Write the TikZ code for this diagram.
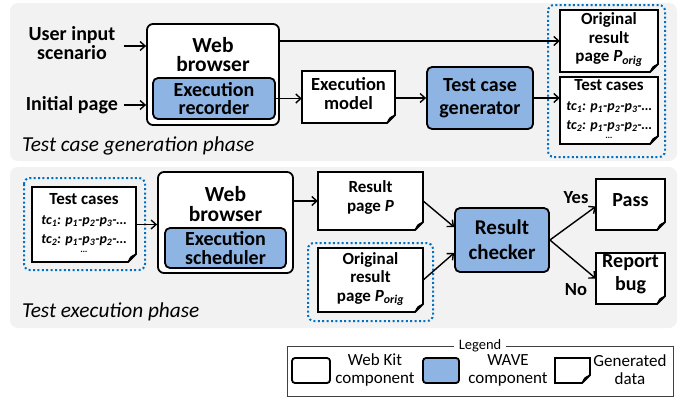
\documentclass[tikz,border=0pt]{standalone}
\usepackage{fontspec}
\setmainfont{Carlito}
\usetikzlibrary{arrows.meta,calc}
\definecolor{waveblue}{HTML}{8EB4E3}
\definecolor{panelgray}{HTML}{F2F2F2}
\definecolor{markblue}{HTML}{0070C0}

% document shape with a curled bottom-right corner; #1 name, #2..#5 corners, #6 label style, #7 text
\newcommand\docnode[7]{%
  \filldraw[docline] (#2,#3) -- (#4,#3) -- (#4,#5-8) -- (#4-8,#5) -- (#2,#5) -- cycle;
  \fill (#4,#5-8) .. controls (#4-2,#5-5) and (#4-5,#5-2) .. (#4-8,#5)
        .. controls (#4-7,#5-5) and (#4-5,#5-7) .. (#4,#5-8);
  \pgfmathsetmacro\docw{#4-#2}\pgfmathsetmacro\doch{#5-#3}%
  \pgfmathsetmacro\docx{(#2+#4)/2}\pgfmathsetmacro\docy{(#3+#5)/2}%
  \node[minimum width=\docw pt, minimum height=\doch pt, inner sep=0pt,
        label={[#6]center:{#7}}] (#1) at (\docx,\docy) {};
}

\begin{document}
\begin{tikzpicture}[x=1pt,y=-1pt,
  panel/.style={fill=panelgray, draw=none, rounded corners=8pt},
  wk/.style={draw, fill=white, line width=1.8pt, rounded corners=6pt, inner sep=0pt},
  wave/.style={draw, fill=waveblue, line width=1.8pt, rounded corners=5pt, inner sep=0pt, align=center},
  docline/.style={draw=black, fill=white, line width=1.8pt, line join=miter},
  groupbox/.style={draw=markblue, line width=2pt, dash pattern=on 2pt off 2.4pt, rounded corners=6pt},
  arr/.style={line width=1.4pt, -{Straight Barb[length=5pt,width=9pt,line width=1.4pt]}},
  big/.style={font=\fontsize{20}{18.5}\selectfont\bfseries, align=center, inner sep=0pt},
  huge/.style={font=\fontsize{21.5}{19.5}\selectfont\bfseries, align=center, inner sep=0pt},
  mid/.style={font=\fontsize{18.5}{19}\selectfont\bfseries, align=center, inner sep=0pt},
  doct/.style={font=\fontsize{17}{18.5}\selectfont\bfseries, align=center, inner sep=0pt},
  tclist/.style={font=\fontsize{14}{19.5}\selectfont\bfseries\itshape, align=center, inner sep=0pt},
  phase/.style={font=\fontsize{21.3}{24}\selectfont\itshape, inner sep=0pt, anchor=west},
  legtext/.style={font=\fontsize{17}{18}\selectfont, align=center, inner sep=0pt},
]
\useasboundingbox (0,0) rectangle (692,399);

% phase panels
\fill[panel] (10,3) rectangle (677,161);
\fill[panel] (10,167) rectangle (677,328);

% dotted groupings of generated data
\draw[groupbox] (548,5) rectangle (665,157);
\draw[groupbox] (24,178) rectangle (145,270);
\draw[groupbox] (308,243) rectangle (433,321);

% ---------- test case generation phase ----------
\node[big] (user) at (72,43) {User input\\scenario};
\node[big, anchor=east] (init) at (118,105) {Initial page};

\node[wk, minimum width=132pt, minimum height=101pt,
      label={[huge, yshift=20pt]center:{Web\\browser}}] (web1) at (213,74.5) {};
\node[wave, big, minimum width=122pt, minimum height=41pt] (rec) at (214,98.5) {Execution\\recorder};

\docnode{em}{302}{71}{395}{123}{mid, yshift=3.5pt}{Execution\\model}

\node[wave, minimum width=106pt, minimum height=62pt,
      font=\fontsize{20}{23}\selectfont\bfseries] (gen) at (480,98) {Test case\\generator};

\docnode{orig1}{560}{10}{658}{72}{doct, yshift=1.5pt}{Original\\result\\page \textit{P}\textsubscript{\textit{orig}}}
\docnode{tc1}{560}{77}{658}{144}{tclist, yshift=1.5pt}{{\upshape\fontsize{17}{19.5}\selectfont Test cases}\\tc\textsubscript{1}: p\textsubscript{1}-p\textsubscript{2}-p\textsubscript{3}-…\\tc\textsubscript{2}: p\textsubscript{1}-p\textsubscript{3}-p\textsubscript{2}-…\\[-11pt]{\fontsize{9}{9}\selectfont …}}

\draw[arr, shorten <=8pt] ([yshift=-3pt]user.east) -- ([yshift=-3pt]user.east -| web1.west);
\draw[arr, shorten <=6pt] (init.east) -- (init.east -| web1.west);
\draw[arr] (rec.east) -- (rec.east -| em.west);
\draw[arr] (em.east |- gen.west) -- (gen.west);
\draw[arr] (gen.east) -- (gen.east -| tc1.west);
\draw[arr] (orig1.west -| web1.east) -- (orig1.west);

\node[phase] (ph1) at (22,146) {Test case generation phase};

% ---------- test execution phase ----------
\docnode{tc2}{32}{187}{136}{262}{tclist, yshift=1.5pt}{{\upshape\fontsize{17}{19.5}\selectfont Test cases}\\tc\textsubscript{1}: p\textsubscript{1}-p\textsubscript{2}-p\textsubscript{3}-…\\tc\textsubscript{2}: p\textsubscript{1}-p\textsubscript{3}-p\textsubscript{2}-…\\[-11pt]{\fontsize{9}{9}\selectfont …}}

\node[wk, minimum width=135pt, minimum height=101pt,
      label={[huge, yshift=18.5pt]center:{Web\\browser}}] (web2) at (225.5,222.5) {};
\node[wave, big, minimum width=121pt, minimum height=40pt] (sched) at (225.5,248) {Execution\\scheduler};

\docnode{resp}{318}{172}{423}{230}{doct, yshift=3.5pt}{Result\\page \textit{P}}
\docnode{orig2}{318}{248}{423}{312}{doct, yshift=1pt}{Original\\result\\page \textit{P}\textsubscript{\textit{orig}}}

\node[wave, minimum width=94pt, minimum height=64pt,
      font=\fontsize{21}{25}\selectfont\bfseries] (checker) at (502,240) {Result\\checker};

\docnode{pass}{596}{179}{665}{230}{big, yshift=4.5pt}{Pass}
\docnode{report}{596}{253}{665}{304}{font=\fontsize{20}{23}\selectfont\bfseries, align=center, inner sep=0pt, yshift=4pt}{Report\\bug}

\draw[arr] (tc2.east) -- (tc2.east -| web2.west);
\draw[arr] (resp.west -| web2.east) -- (resp.west);
\draw[arr] (resp.east) -- ([yshift=13pt]checker.west);
\draw[arr] (orig2.east) -- ([yshift=-13pt]checker.west);
\draw[arr] (checker.east) -- ([yshift=-2pt]pass.west);
\draw[arr] (checker.east) -- (report.west);

\node[mid] (yes) at (576,198) {Yes};
\node[mid] (no) at (576,290) {No};

\node[phase] (ph2) at (22,312) {Test execution phase};

% ---------- legend ----------
\node[draw=black!75, line width=0.9pt, minimum width=386pt, minimum height=50pt, inner sep=0pt] (legend) at (480,371) {};
\node[fill=white, inner xsep=5pt, inner ysep=0pt, font=\fontsize{14.5}{15}\selectfont] (legtitle) at (legend.north) {Legend};

\node[wk, minimum width=38pt, minimum height=25pt, rounded corners=3pt] (lwk) at (311,370.5) {};
\node[legtext] (lwkt) at (375,370) {Web Kit\\component};
\node[wave, minimum width=36pt, minimum height=25pt, rounded corners=3pt] (lwave) at (441,370.5) {};
\node[legtext] (lwavet) at (508,370) {WAVE\\component};
\docnode{ldoc}{555}{358}{590}{383}{inner sep=0pt}{}
\node[legtext] (ldoct) at (630,370) {Generated\\data};
\end{tikzpicture}
\end{document}
